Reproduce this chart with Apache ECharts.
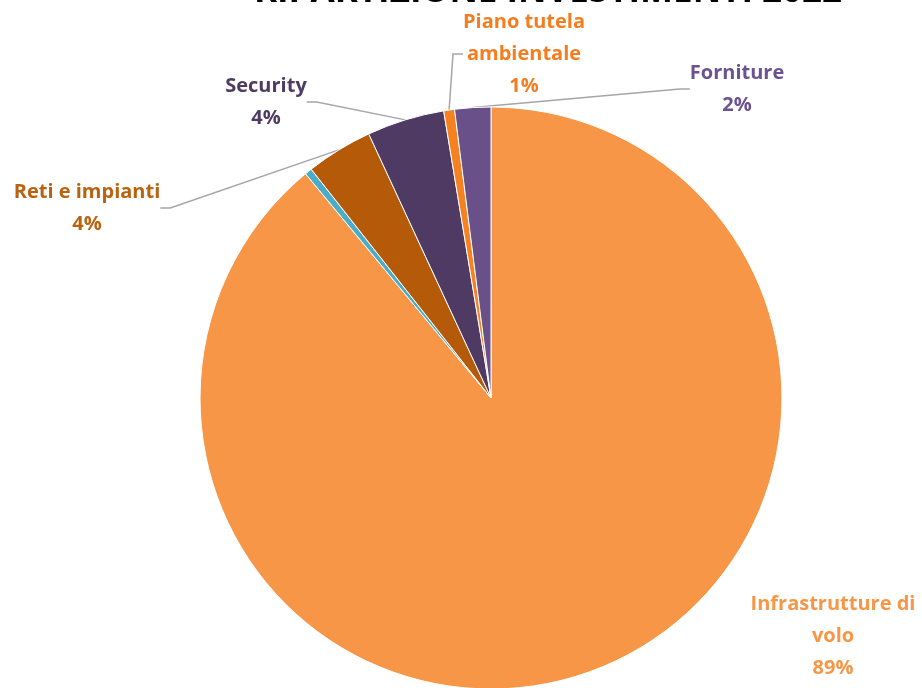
<!DOCTYPE html>
<html>
<head>
<meta charset="utf-8">
<script src="https://cdn.jsdelivr.net/npm/echarts@6/dist/echarts.min.js"></script>
<style>html,body{margin:0;padding:0;background:#fff}#c{width:922px;height:688px}</style>
</head>
<body>
<div id="c"></div>
<script>
const titleText = 'RIPARTIZIONE INVESTIMENTI 2022';
const categories = ['Infrastrutture di volo', 'Altro', 'Reti e impianti', 'Security', 'Piano tutela ambientale', 'Forniture'];
const labelNames = ['Infrastrutture di\nvolo', '', 'Reti e impianti', 'Security', 'Piano tutela\nambientale', 'Forniture'];
const values = [89.0, 0.4, 3.7, 4.3, 0.6, 2.0];

const sliceColors = ['#F79646', '#4BACC6', '#B55A08', '#4E3A62', '#F68121', '#6A5088'];
const labelColors = ['#F79646', '#4BACC6', '#B9620F', '#4E3A62', '#F47D20', '#6A5390'];
const labelPos = [[833, 636], null, [87, 208], [266, 102], [524, 54], [737, 89]];

const chart = echarts.init(document.getElementById('c'));
chart.setOption({
  animation: false,
  graphic: [{
    type: 'text',
    x: 548,
    y: 10,
    style: {
      text: titleText,
      fontFamily: 'Open Sans',
      fontWeight: 'bold',
      fontSize: 35,
      fill: '#000',
      textAlign: 'center',
      textVerticalAlign: 'bottom'
    }
  }],
  series: [{
    type: 'pie',
    center: [491, 398],
    radius: 291,
    startAngle: 90,
    clockwise: true,
    avoidLabelOverlap: false,
    itemStyle: { borderColor: '#fff', borderWidth: 1 },
    label: {
      fontFamily: 'Open Sans',
      fontWeight: 'bold',
      fontSize: 20,
      lineHeight: 32,
      align: 'center',
      formatter: function (p) {
        return labelNames[p.dataIndex] + '\n' + Math.round(p.percent) + '%';
      }
    },
    labelLine: { show: true, lineStyle: { color: '#A6A6A6', width: 1.5 }, length: 10, length2: 10 },
    labelLayout: function (p) {
      const pos = labelPos[p.dataIndex];
      if (!pos) return {};
      return { x: pos[0], y: pos[1], align: 'center', verticalAlign: 'middle' };
    },
    data: categories.map(function (c, i) {
      const d = {
        name: c,
        value: values[i],
        itemStyle: { color: sliceColors[i] },
        label: { color: labelColors[i] }
      };
      if (i === 1) { d.label.show = false; d.labelLine = { show: false }; }
      if (i === 0) { d.labelLine = { show: false }; }
      return d;
    })
  }]
});
</script>
</body>
</html>
